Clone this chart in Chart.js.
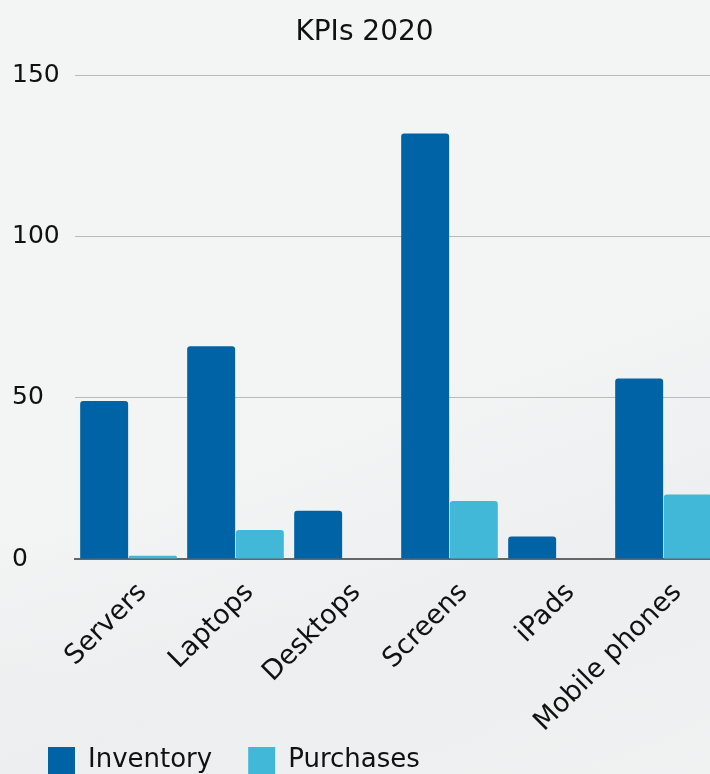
<!DOCTYPE html>
<html>
<head>
<meta charset="utf-8">
<script src="https://cdn.jsdelivr.net/npm/chart.js@4/dist/chart.umd.min.js"></script>
<style>
  html, body {
    margin: 0;
    padding: 0;
    overflow: hidden;
    background: #f3f5f5;
  }
  #wrap {
    position: relative;
    width: 722px;
    height: 816px;
    background:
      linear-gradient(160deg, rgba(243,245,245,0) 50%, rgba(236,238,239,0.9) 72%, rgba(240,242,242,1) 100%),
      linear-gradient(15deg, rgba(238,240,240,1) 0%, rgba(243,245,245,0) 30%),
      #f3f5f5;
  }
</style>
</head>
<body>
<div id="wrap"><canvas id="kpiChart"></canvas></div>
<script>
// данные графика
const categories = ['Servers', 'Laptops', 'Desktops', 'Screens', 'iPads', 'Mobile phones'];
const inventory = [49, 66, 15, 132, 7, 56];
const purchases = [1, 9, 0, 18, 0, 20];
const yTicks = [0, 50, 100, 150];

const fontFamily = '"DejaVu Sans", sans-serif';

// легенда заходит под подписи оси X, как в оригинале
const legendShift = {
  id: 'legendShift',
  afterLayout(chart) {
    const lg = chart.legend;
    if (lg) {
      lg.top -= 32;
      lg.bottom -= 32;
    }
  }
};

const ctx = document.getElementById('kpiChart');
const kpiChart = new Chart(ctx, {
  type: 'bar',
  data: {
    labels: categories,
    datasets: [{
      label: 'Inventory',
      data: inventory,
      backgroundColor: '#0063a6',
      borderRadius: 3,
      barPercentage: 0.985,
      categoryPercentage: 0.91
    }, {
      label: 'Purchases',
      data: purchases,
      backgroundColor: '#42b8d8',
      borderRadius: 3,
      barPercentage: 0.985,
      categoryPercentage: 0.91
    }]
  },
  options: {
    responsive: true,
    maintainAspectRatio: false,
    animation: false,
    layout: {
      padding: { left: 12, right: 5 }
    },
    plugins: {
      title: {
        display: true,
        text: 'KPIs 2020',
        color: '#111',
        font: { family: fontFamily, size: 28, weight: 'normal' },
        padding: { top: 16, bottom: 26 }
      },
      legend: {
        position: 'bottom',
        align: 'start',
        labels: {
          color: '#111',
          font: { family: fontFamily, size: 26 },
          boxWidth: 27,
          boxHeight: 27,
          padding: 36
        }
      },
      tooltip: { enabled: false }
    },
    scales: {
      x: {
        afterFit: (scale) => { scale.height = 184; },
        grid: { display: false },
        border: { color: '#666', width: 2 },
        ticks: {
          color: '#111',
          font: { family: fontFamily, size: 27 },
          minRotation: 45,
          maxRotation: 45,
          labelOffset: 14,
          padding: 10
        }
      },
      y: {
        min: 0,
        max: 150,
        afterFit: (scale) => { scale.width = 63; },
        afterBuildTicks: (scale) => {
          scale.ticks = yTicks.map(v => ({ value: v }));
        },
        grid: { color: '#bbbbbb', drawTicks: false },
        border: { display: false },
        ticks: {
          color: '#111',
          font: { family: fontFamily, size: 25 },
          crossAlign: 'far',
          padding: 0
        }
      }
    }
  },
  plugins: [legendShift]
});
</script>
</body>
</html>
